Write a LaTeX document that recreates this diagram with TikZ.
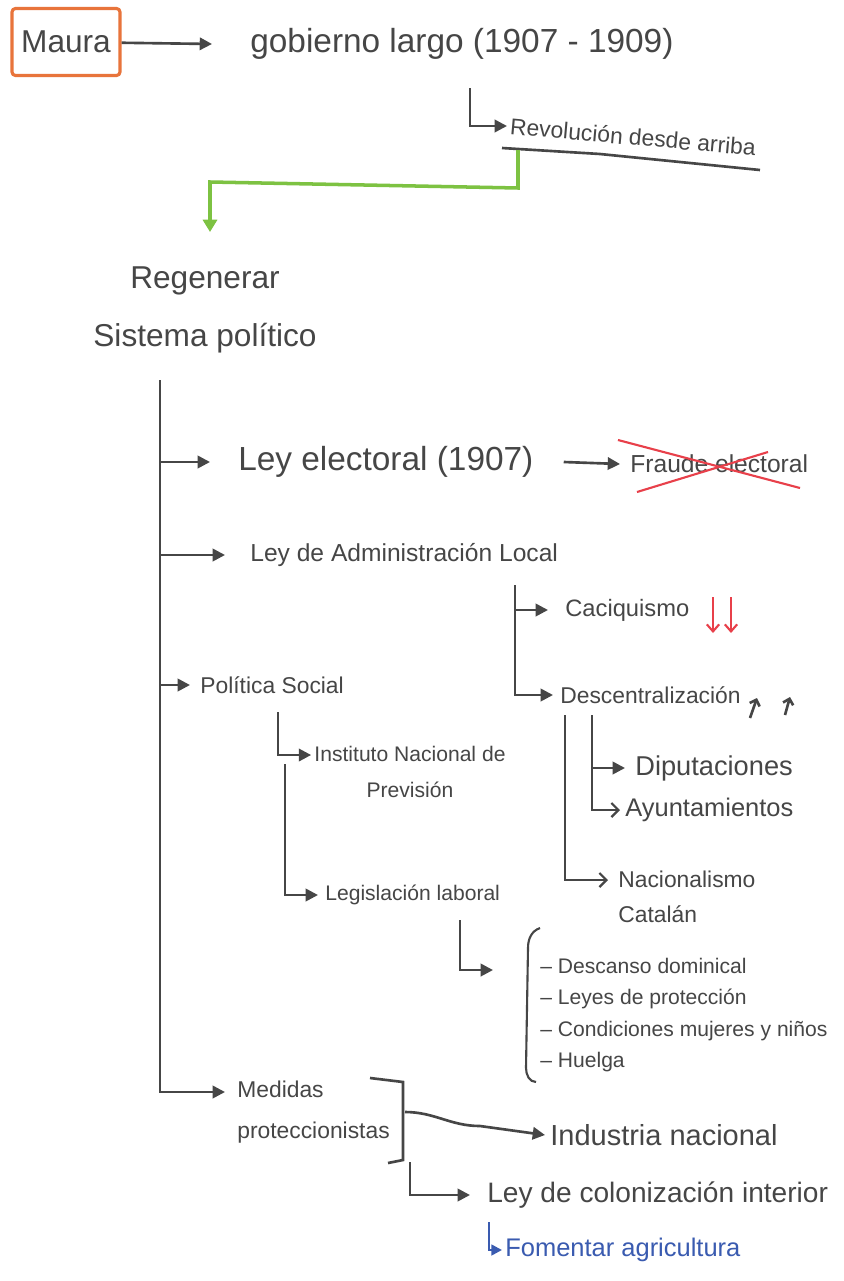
\documentclass[tikz,border=0pt]{standalone}
\usepackage{fontspec}
\setmainfont{Liberation Sans}
\usetikzlibrary{arrows.meta}
\definecolor{pencil}{HTML}{464646}
\definecolor{marker}{HTML}{E8743B}
\definecolor{leaf}{HTML}{7DC242}
\definecolor{redpen}{HTML}{E8404A}
\definecolor{bluepen}{HTML}{3A5BB0}
\newcommand{\pen}[2]{\fontsize{#1}{#2}\selectfont}

\begin{document}
\begin{tikzpicture}[x=0.02cm, y=-0.02cm,
  every node/.style={inner sep=0, text=pencil, anchor=west},
  link/.style={draw=pencil, line width=1.5pt, -{Triangle[length=7pt,width=7pt]}},
  barb/.style={draw=pencil, line width=1.3pt, -{Straight Barb[length=4pt,width=8pt]}},
  plain/.style={draw=pencil, line width=1.5pt}]
  \useasboundingbox[fill=white] (0,0) rectangle (844,1281);

  \node[draw=marker, line width=1.8pt, rounded corners=2pt, anchor=center,
        minimum width=2.16cm, minimum height=1.34cm, font=\pen{18}{20}] (maura) at (66,42) {Maura};
  \node[font=\pen{19}{22}] (gov) at (250,44) {gobierno largo (1907 - 1909)};
  \node[font=\pen{13}{15}, rotate=-5] (rev) at (510,126) {Revolución desde arriba};
  \node[anchor=center, align=center, font=\pen{18}{33}] (reg) at (205,310) {Regenerar\\Sistema político};

  \node[font=\pen{19}{22}] (elec) at (238,462) {Ley electoral (1907)};
  \node[font=\pen{14}{16}] (fraude) at (630,464) {Fraude electoral};
  \node[font=\pen{14}{16}] (admin) at (250,555) {Ley de Administración Local};
  \node[font=\pen{13.5}{16}] (caci) at (565,610) {Caciquismo};
  \node[font=\pen{13}{16}] (desc) at (560,695) {Descentralización};
  \node[font=\pen{15.5}{18}] (dip) at (635,768) {Diputaciones};
  \node[font=\pen{14.5}{17}] (ayun) at (625,810) {Ayuntamientos};
  \node[align=left, font=\pen{13}{20}] (nac) at (618,897) {Nacionalismo\\Catalán};

  \node[font=\pen{13}{16}] (pol) at (200,685) {Política Social};
  \node[anchor=center, align=center, font=\pen{12}{20}] (inst) at (410,772) {Instituto Nacional de\\Previsión};
  \node[font=\pen{12}{15}] (legis) at (325,895) {Legislación laboral};
  \node[align=left, font=\pen{12}{18}] (lab) at (540,1015)
    {– Descanso dominical\\– Leyes de protección\\– Condiciones mujeres y niños\\– Huelga};

  \node[align=left, font=\pen{13}{23}] (med) at (237,1112) {Medidas\\proteccionistas};
  \node[font=\pen{16.5}{19}] (ind) at (550,1135) {Industria nacional};
  \node[font=\pen{16}{19}] (col) at (487,1195) {Ley de colonización interior};
  \node[font=\pen{14.5}{17}, text=bluepen] (agri) at (505,1250) {Fomentar agricultura};

  \coordinate (revtop) at (470,88);
  \coordinate (greentop) at (518,150);
  \coordinate (greentip) at (210,232);
  \coordinate (trunk) at (160,380);
  \coordinate (admbr) at (515,585);
  \coordinate (descbr) at (592,715);
  \coordinate (nacbr) at (565,715);
  \coordinate (polbr) at (278,712);
  \coordinate (legbr) at (285,764);
  \coordinate (labtop) at (460,920);
  \coordinate (medmid) at (405,1112);
  \coordinate (colbr) at (410,1162);
  \coordinate (agribr) at (489,1222);

  \draw[link] (maura) -- ([xshift=-0.76cm]gov.west);
  \draw[link] (revtop) |- ([xshift=-0.06cm]rev.west);
  \draw[plain] (502,148) -- (600,154) -- (760,170);
  \draw[leaf, line width=2pt, -{Triangle[length=7pt,width=8pt]}]
    (greentop) -- (518,188) -- (210,182) -- (greentip);

  \draw[link] (trunk) |- ([xshift=-0.56cm]elec.west);
  \draw[link] (trunk) |- ([xshift=-0.5cm]admin.west);
  \draw[link] (trunk) |- ([xshift=-0.2cm]pol.west);
  \draw[link] (trunk) |- ([xshift=-0.24cm,yshift=0.4cm]med.west);

  \draw[link] ([xshift=0.6cm]elec.east) -- ([xshift=-0.2cm]fraude.west);
  \draw[redpen, line width=1.2pt] (618,440) -- (800,488);
  \draw[redpen, line width=1.2pt] (637,492) -- (768,452);

  \draw[link] (admbr) |- ([xshift=-0.34cm]caci.west);
  \draw[link] (admbr) |- ([xshift=-0.14cm]desc.west);
  \draw[redpen, line width=1.2pt, -{Straight Barb[length=4pt,width=7pt]}] (713,597) -- (713,633);
  \draw[redpen, line width=1.2pt, -{Straight Barb[length=4pt,width=7pt]}] (731,597) -- (731,633);
  \draw[plain, -{Straight Barb[length=3pt,width=6pt]}] (750,718) -- (757,698);
  \draw[plain, -{Straight Barb[length=3pt,width=6pt]}] (785,715) -- (790,697);

  \draw[link] (descbr) |- ([xshift=-0.2cm]dip.west);
  \draw[barb] (descbr) |- ([xshift=-0.1cm]ayun.west);
  \draw[barb] (nacbr) |- ([xshift=-0.2cm,yshift=0.34cm]nac.west);

  \draw[link] (polbr) |- ([xshift=-0.06cm,yshift=0.34cm]inst.west);
  \draw[link] (legbr) |- ([xshift=-0.14cm]legis.west);
  \draw[link] (labtop) |- ([xshift=-0.94cm,yshift=0.9cm]lab.west);
  \draw[plain, line width=1.2pt] (540,928) to[out=200, in=90] (528,948) -- (526,1068) to[out=-90, in=180] (536,1082);

  \draw[plain] (370,1078) -- (403,1082) -- (403,1160) -- (388,1163);
  \draw[link] (medmid) to[out=0, in=180] (480,1126) -- ([xshift=-0.1cm]ind.west);
  \draw[link] (colbr) |- ([xshift=-0.34cm]col.west);
  \draw[bluepen, line width=1.4pt, -{Triangle[length=6pt,width=6pt]}] (agribr) |- ([xshift=-0.06cm]agri.west);
\end{tikzpicture}
\end{document}
